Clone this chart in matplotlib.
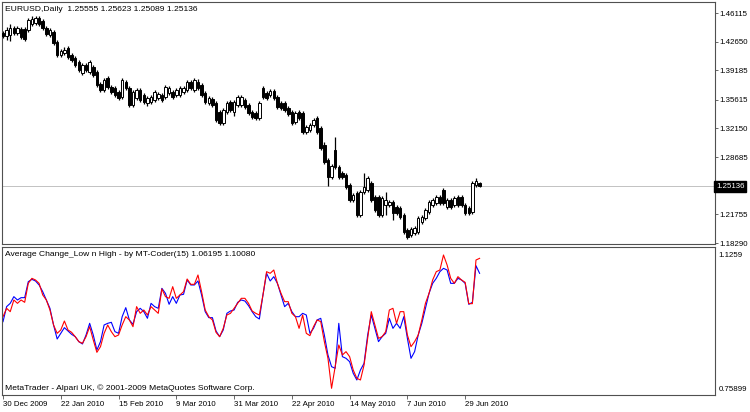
import numpy as np
import matplotlib
matplotlib.use('Agg')
from matplotlib import pyplot as plt

# -------------------- Datos --------------------
title_price = 'EURUSD,Daily  1.25555 1.25623 1.25089 1.25136'
title_ind = 'Average Change_Low n High - by MT-Coder(15) 1.06195 1.10080'
copyright_txt = 'MetaTrader - Alpari UK, \u00a9 2001-2009 MetaQuotes Software Corp.'

date_labels = ['30 Dec 2009', '22 Jan 2010', '15 Feb 2010', '9 Mar 2010', '31 Mar 2010',
               '22 Apr 2010', '14 May 2010', '7 Jun 2010', '29 Jun 2010']
date_bars = [0, 16, 32, 48, 64, 80, 96, 112, 128]

price_ticks = [1.46115, 1.42650, 1.39185, 1.35615, 1.32150, 1.28685, 1.21755, 1.18290]
price_labels = ['1.46115', '1.42650', '1.39185', '1.35615', '1.32150', '1.28685', '1.21755', '1.18290']
last_price = 1.25136
ind_max = 1.1259
ind_min = 0.75899

opens = [1.4370, 1.4333, 1.4346, 1.4430, 1.4370, 1.4418, 1.4418, 1.4406, 1.4479, 1.4491,
         1.4551, 1.4515, 1.4430, 1.4346, 1.4382, 1.4261, 1.4104, 1.4128, 1.4188, 1.4104,
         1.4067, 1.4019, 1.3886, 1.3983, 1.3898, 1.3958, 1.3898, 1.3753, 1.3680, 1.3825,
         1.3716, 1.3704, 1.3656, 1.3595, 1.3777, 1.3704, 1.3499, 1.3583, 1.3680, 1.3620,
         1.3523, 1.3535, 1.3559, 1.3583, 1.3620, 1.3595, 1.3644, 1.3656, 1.3620, 1.3620,
         1.3656, 1.3680, 1.3777, 1.3680, 1.3777, 1.3741, 1.3644, 1.3523, 1.3571, 1.3523,
         1.3414, 1.3281, 1.3414, 1.3535, 1.3414, 1.3499, 1.3499, 1.3559, 1.3499, 1.3414,
         1.3402, 1.3341, 1.3704, 1.3644, 1.3620, 1.3668, 1.3595, 1.3523, 1.3523, 1.3462,
         1.3414, 1.3293, 1.3414, 1.3402, 1.3172, 1.3196, 1.3257, 1.3341, 1.3220, 1.3015,
         1.2833, 1.2627, 1.2954, 1.2748, 1.2676, 1.2652, 1.2531, 1.2349, 1.2434, 1.2168,
         1.2446, 1.2470, 1.2555, 1.2385, 1.2385, 1.2168, 1.2289, 1.2289, 1.2325, 1.2264,
         1.2252, 1.2168, 1.1986, 1.1926, 1.1950, 1.1962, 1.2083, 1.2131, 1.2204, 1.2289,
         1.2313, 1.2385, 1.2470, 1.2264, 1.2349, 1.2289, 1.2385, 1.2385, 1.2289, 1.2252,
         1.2204, 1.2531, 1.25555]
highs = [1.4394, 1.4442, 1.4479, 1.4454, 1.4454, 1.4442, 1.4442, 1.4551, 1.4575, 1.4575,
         1.4575, 1.4539, 1.4454, 1.4430, 1.4406, 1.4285, 1.4176, 1.4200, 1.4212, 1.4128,
         1.4091, 1.4043, 1.4007, 1.4007, 1.4043, 1.3983, 1.3922, 1.3777, 1.3825, 1.3849,
         1.3741, 1.3728, 1.3680, 1.3825, 1.3801, 1.3728, 1.3680, 1.3704, 1.3704, 1.3644,
         1.3607, 1.3620, 1.3680, 1.3656, 1.3644, 1.3741, 1.3728, 1.3680, 1.3704, 1.3728,
         1.3728, 1.3801, 1.3801, 1.3825, 1.3813, 1.3765, 1.3668, 1.3607, 1.3595, 1.3547,
         1.3438, 1.3462, 1.3547, 1.3559, 1.3559, 1.3620, 1.3620, 1.3583, 1.3523, 1.3438,
         1.3426, 1.3547, 1.3728, 1.3668, 1.3692, 1.3692, 1.3620, 1.3547, 1.3547, 1.3486,
         1.3438, 1.3426, 1.3438, 1.3426, 1.3257, 1.3281, 1.3341, 1.3365, 1.3244, 1.3051,
         1.2857, 1.2785, 1.3111, 1.2773, 1.2700, 1.2676, 1.2555, 1.2434, 1.2458, 1.2470,
         1.2676, 1.2639, 1.2579, 1.2410, 1.2410, 1.2397, 1.2446, 1.2349, 1.2349, 1.2289,
         1.2276, 1.2192, 1.2011, 1.2022, 1.2034, 1.2155, 1.2168, 1.2252, 1.2349, 1.2373,
         1.2410, 1.2410, 1.2494, 1.2373, 1.2373, 1.2397, 1.2410, 1.2410, 1.2313, 1.2276,
         1.2579, 1.2615, 1.25623]
lows = [1.4309, 1.4285, 1.4273, 1.4346, 1.4346, 1.4297, 1.4273, 1.4382, 1.4454, 1.4467,
        1.4454, 1.4406, 1.4333, 1.4321, 1.4225, 1.4079, 1.4079, 1.4104, 1.4055, 1.4019,
        1.3958, 1.3898, 1.3862, 1.3898, 1.3874, 1.3837, 1.3716, 1.3656, 1.3656, 1.3692,
        1.3632, 1.3595, 1.3559, 1.3571, 1.3680, 1.3474, 1.3474, 1.3559, 1.3535, 1.3511,
        1.3486, 1.3511, 1.3535, 1.3559, 1.3535, 1.3571, 1.3620, 1.3571, 1.3595, 1.3595,
        1.3632, 1.3656, 1.3680, 1.3656, 1.3680, 1.3595, 1.3511, 1.3499, 1.3474, 1.3293,
        1.3257, 1.3257, 1.3390, 1.3414, 1.3365, 1.3474, 1.3474, 1.3450, 1.3378, 1.3329,
        1.3317, 1.3317, 1.3571, 1.3559, 1.3595, 1.3559, 1.3450, 1.3438, 1.3414, 1.3365,
        1.3257, 1.3269, 1.3317, 1.3148, 1.3148, 1.3172, 1.3232, 1.3148, 1.2954, 1.2785,
        1.2518, 1.2603, 1.2724, 1.2603, 1.2603, 1.2482, 1.2325, 1.2325, 1.2143, 1.2143,
        1.2422, 1.2446, 1.2325, 1.2204, 1.2143, 1.2143, 1.2168, 1.2264, 1.2107, 1.2168,
        1.2119, 1.1938, 1.1877, 1.1901, 1.1926, 1.1938, 1.2059, 1.2107, 1.2180, 1.2264,
        1.2289, 1.2289, 1.2289, 1.2240, 1.2240, 1.2264, 1.2264, 1.2264, 1.2168, 1.2168,
        1.2180, 1.2506, 1.25089]
closes = [1.4333, 1.4406, 1.4430, 1.4370, 1.4430, 1.4321, 1.4297, 1.4527, 1.4539, 1.4551,
          1.4479, 1.4430, 1.4358, 1.4406, 1.4249, 1.4104, 1.4152, 1.4164, 1.4079, 1.4043,
          1.3983, 1.3922, 1.3983, 1.3922, 1.4019, 1.3862, 1.3741, 1.3680, 1.3801, 1.3716,
          1.3656, 1.3620, 1.3583, 1.3801, 1.3704, 1.3499, 1.3656, 1.3680, 1.3559, 1.3535,
          1.3583, 1.3595, 1.3656, 1.3632, 1.3559, 1.3716, 1.3704, 1.3595, 1.3680, 1.3704,
          1.3704, 1.3777, 1.3704, 1.3801, 1.3704, 1.3620, 1.3535, 1.3583, 1.3499, 1.3317,
          1.3281, 1.3438, 1.3523, 1.3438, 1.3535, 1.3595, 1.3595, 1.3474, 1.3402, 1.3353,
          1.3341, 1.3523, 1.3595, 1.3583, 1.3668, 1.3583, 1.3474, 1.3462, 1.3438, 1.3390,
          1.3281, 1.3402, 1.3341, 1.3172, 1.3232, 1.3257, 1.3317, 1.3172, 1.2978, 1.2809,
          1.2627, 1.2760, 1.2748, 1.2627, 1.2627, 1.2506, 1.2349, 1.2410, 1.2168, 1.2446,
          1.2506, 1.2615, 1.2349, 1.2228, 1.2168, 1.2373, 1.2349, 1.2325, 1.2192, 1.2192,
          1.2143, 1.1962, 1.1901, 1.1998, 1.2011, 1.2131, 1.2143, 1.2228, 1.2325, 1.2349,
          1.2385, 1.2313, 1.2313, 1.2349, 1.2264, 1.2373, 1.2289, 1.2289, 1.2192, 1.2192,
          1.2555, 1.2579, 1.25136]

blue_line = [0.9425, 0.9838, 0.9929, 1.0113, 1.0021, 1.0085, 1.0085, 1.0525, 1.0589, 1.0544,
             1.0434, 1.0250, 1.0021, 0.9792, 0.9333, 0.8948, 0.9104, 0.9260, 0.9168, 0.9076,
             0.9012, 0.8875, 0.8811, 0.9058, 0.9379, 0.9058, 0.8645, 0.8875, 0.9333, 0.9379,
             0.9407, 0.9150, 0.9104, 0.9562, 0.9810, 0.9471, 0.9352, 0.9700, 0.9792, 0.9700,
             0.9517, 0.9929, 0.9838, 0.9792, 1.0342, 1.0204, 0.9902, 1.0113, 0.9929, 1.0159,
             1.0177, 1.0571, 1.0434, 1.0434, 1.0544, 1.0159, 0.9700, 0.9535, 0.9535, 0.9168,
             0.9012, 0.9196, 0.9654, 0.9718, 0.9746, 0.9957, 1.0021, 0.9993, 0.9865, 0.9700,
             0.9562, 0.9498, 1.0159, 1.0755, 1.0544, 1.0663, 1.0479, 1.0159, 0.9838, 0.9929,
             0.9700, 0.9562, 0.9562, 0.9654, 0.9608, 0.9104, 0.9241, 0.9471, 0.9517, 0.9058,
             0.8508, 0.8187, 0.8141, 0.9379, 0.8462, 0.8416, 0.8324, 0.8003, 0.7820, 0.8095,
             0.8279, 0.9058, 0.9608, 0.9241, 0.8875, 0.9012, 0.9104, 0.9517, 0.9241, 0.9379,
             0.9241, 0.9562, 0.8966, 0.8416, 0.8600, 0.9058, 0.9379, 0.9792, 1.0204, 1.0479,
             1.0617, 1.0800, 1.0892, 1.0846, 1.0479, 1.0479, 1.0617, 1.0571, 1.0479, 0.9902,
             0.9957, 1.0965, 1.0755]
red_line = [0.9562, 0.9792, 0.9700, 1.0021, 0.9929, 1.0021, 0.9957, 1.0479, 1.0617, 1.0571,
            1.0479, 1.0159, 1.0021, 0.9746, 0.9333, 0.9104, 0.9196, 0.9443, 0.9196, 0.9131,
            0.9012, 0.8875, 0.8829, 0.9012, 0.9287, 0.8921, 0.8581, 0.8737, 0.9104, 0.9333,
            0.9150, 0.9012, 0.9058, 0.9333, 0.9562, 0.9471, 0.9287, 0.9838, 0.9654, 0.9746,
            0.9608, 0.9838, 0.9746, 0.9654, 1.0324, 1.0113, 1.0067, 1.0388, 1.0067, 1.0159,
            1.0250, 1.0599, 1.0452, 1.0452, 1.0709, 1.0250, 0.9746, 0.9562, 0.9471, 0.9131,
            0.9012, 0.9241, 0.9608, 0.9654, 0.9792, 0.9929, 1.0067, 1.0067, 0.9929, 0.9718,
            0.9654, 0.9608, 1.0159, 1.0800, 1.0755, 1.0846, 1.0479, 1.0204, 0.9975, 0.9975,
            0.9654, 0.9562, 0.9241, 0.9608, 0.9104, 0.9040, 0.9287, 0.9471, 0.9425, 0.8875,
            0.8416, 0.7591, 0.8187, 0.8783, 0.8508, 0.8600, 0.8462, 0.8095, 0.7866, 0.7820,
            0.8233, 0.8966, 0.9700, 0.9333, 0.8966, 0.9012, 0.9150, 0.9746, 0.9792, 0.9379,
            0.9700, 0.9700, 0.9058, 0.8737, 0.8875, 0.9058, 0.9471, 0.9929, 1.0204, 1.0571,
            1.0800, 1.0846, 1.1259, 1.0984, 1.0617, 1.0479, 1.0663, 1.0571, 1.0507, 0.9920,
            0.9920, 1.1121, 1.1167]

# -------------------- Estilo --------------------
FONT = 'Liberation Sans'
FS = 6.1        # textos dentro de los paneles
FS_AX = 5.7     # etiquetas de los ejes
BORDER = '#505050'
W, H = 750, 412

fig = plt.figure(figsize=(W / 100, H / 100), dpi=100)
fig.patch.set_facecolor('white')

# Posiciones de los paneles en pixeles
ax1 = fig.add_axes([2 / W, 1 - 244 / H, 713 / W, 242 / H])
ax2 = fig.add_axes([2 / W, 1 - 395 / H, 713 / W, 148 / H], sharex=ax1)

x = np.arange(len(closes))
o = np.array(opens)
c = np.array(closes)

# -------------------- Velas --------------------
ax1.vlines(x, lows, highs, color='black', lw=0.9, zorder=2)
up = c >= o
body_bottom = np.minimum(o, c)
body_h = np.maximum(np.abs(c - o), 0.0004)
ax1.bar(x[up], body_h[up], bottom=body_bottom[up], width=0.7, color='white',
        edgecolor='black', lw=0.7, zorder=3)
ax1.bar(x[~up], body_h[~up], bottom=body_bottom[~up], width=0.7, color='black',
        edgecolor='black', lw=0.7, zorder=3)

ax1.axhline(last_price, color='#b8b8b8', lw=0.6, zorder=1)

ax1.set_xlim(-0.28, 197.2)
ax1.set_ylim(1.1817, 1.4745)

ax1.yaxis.tick_right()
ax1.set_yticks(price_ticks)
ax1.set_yticklabels(price_labels, fontsize=FS_AX, family=FONT)
ax1.tick_params(axis='y', length=2.2, width=0.6, pad=1, color=BORDER)
ax1.tick_params(axis='x', bottom=False, labelbottom=False)

ax1.text(1.0015, last_price, '1.25136', transform=ax1.get_yaxis_transform(),
         fontsize=FS_AX, family=FONT, color='white', va='center', ha='left',
         bbox=dict(boxstyle='square,pad=0.2', fc='black', ec='black'))
ax1.text(0.004, 0.985, title_price, transform=ax1.transAxes, fontsize=FS,
         family=FONT, va='top', ha='left')

# -------------------- Indicador --------------------
ax2.plot(x, blue_line, color='#0000ff', lw=0.8)
ax2.plot(x, red_line, color='#ff0000', lw=0.8)
ax2.set_ylim(0.7407, 1.1479)

ax2.yaxis.tick_right()
ax2.set_yticks([ind_max, ind_min])
ax2.set_yticklabels(['1.1259', '0.75899'], fontsize=FS_AX, family=FONT)
ax2.tick_params(axis='y', length=0, pad=2.5)

ax2.set_xticks(date_bars)
ax2.set_xticklabels(date_labels, fontsize=FS_AX, family=FONT, ha='left')
ax2.tick_params(axis='x', length=3, width=0.6, pad=1, color=BORDER)

ax2.text(0.004, 0.975, title_ind, transform=ax2.transAxes, fontsize=FS,
         family=FONT, va='top', ha='left')
ax2.text(0.004, 0.02, copyright_txt, transform=ax2.transAxes, fontsize=FS,
         family=FONT, va='bottom', ha='left')

for ax in (ax1, ax2):
    ax.set_facecolor('white')
    for s in ax.spines.values():
        s.set_color(BORDER)
        s.set_linewidth(0.8)

fig.savefig('out.png', dpi=100)
